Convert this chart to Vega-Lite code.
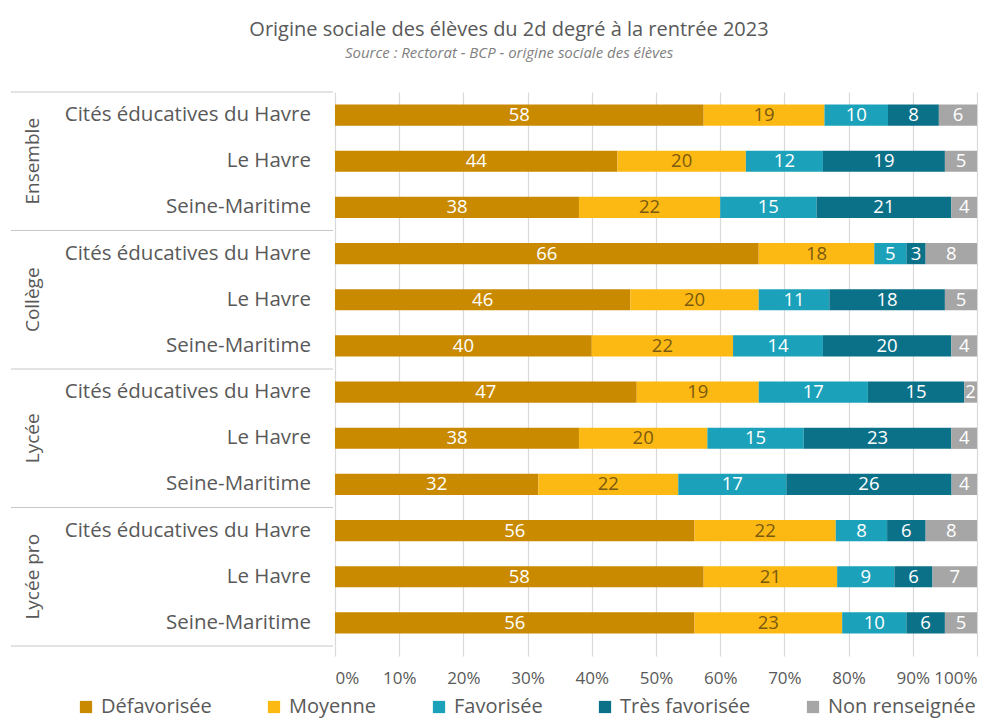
{
  "$schema": "https://vega.github.io/schema/vega-lite/v6.json",
  "padding": {"left": 10, "top": 20, "right": 20, "bottom": 5},
  "background": "white",
  "title": {
    "text": "Origine sociale des élèves du 2d degré à la rentrée 2023",
    "subtitle": "Source : Rectorat - BCP - origine sociale des élèves",
    "font": "Open Sans", "fontSize": 20, "fontWeight": "normal", "color": "#595959",
    "subtitleFont": "Open Sans", "subtitleFontSize": 15, "subtitleFontStyle": "italic", "subtitleColor": "#7f7f7f",
    "subtitlePadding": 6, "anchor": "middle", "offset": 30, "dx": 15
  },
  "data": {"values": [
    {"g": "Ensemble", "s": "Cités éducatives du Havre", "Défavorisée": 58, "Moyenne": 19, "Favorisée": 10, "Très favorisée": 8, "Non renseignée": 6},
    {"g": "Ensemble", "s": "Le Havre", "Défavorisée": 44, "Moyenne": 20, "Favorisée": 12, "Très favorisée": 19, "Non renseignée": 5},
    {"g": "Ensemble", "s": "Seine-Maritime", "Défavorisée": 38, "Moyenne": 22, "Favorisée": 15, "Très favorisée": 21, "Non renseignée": 4},
    {"g": "Collège", "s": "Cités éducatives du Havre", "Défavorisée": 66, "Moyenne": 18, "Favorisée": 5, "Très favorisée": 3, "Non renseignée": 8},
    {"g": "Collège", "s": "Le Havre", "Défavorisée": 46, "Moyenne": 20, "Favorisée": 11, "Très favorisée": 18, "Non renseignée": 5},
    {"g": "Collège", "s": "Seine-Maritime", "Défavorisée": 40, "Moyenne": 22, "Favorisée": 14, "Très favorisée": 20, "Non renseignée": 4},
    {"g": "Lycée", "s": "Cités éducatives du Havre", "Défavorisée": 47, "Moyenne": 19, "Favorisée": 17, "Très favorisée": 15, "Non renseignée": 2},
    {"g": "Lycée", "s": "Le Havre", "Défavorisée": 38, "Moyenne": 20, "Favorisée": 15, "Très favorisée": 23, "Non renseignée": 4},
    {"g": "Lycée", "s": "Seine-Maritime", "Défavorisée": 32, "Moyenne": 22, "Favorisée": 17, "Très favorisée": 26, "Non renseignée": 4},
    {"g": "Lycée pro", "s": "Cités éducatives du Havre", "Défavorisée": 56, "Moyenne": 22, "Favorisée": 8, "Très favorisée": 6, "Non renseignée": 8},
    {"g": "Lycée pro", "s": "Le Havre", "Défavorisée": 58, "Moyenne": 21, "Favorisée": 9, "Très favorisée": 6, "Non renseignée": 7},
    {"g": "Lycée pro", "s": "Seine-Maritime", "Défavorisée": 56, "Moyenne": 23, "Favorisée": 10, "Très favorisée": 6, "Non renseignée": 5}
  ]},
  "transform": [{"calculate": "datum.g + '|' + datum.s", "as": "key"}],
  "spacing": 0,
  "hconcat": [
    {
      "width": 322, "height": 554,
      "encoding": {
        "y": {"field": "key", "type": "nominal", "axis": null,
          "scale": {"paddingInner": 0, "paddingOuter": 0, "domain": [
            "Ensemble|Cités éducatives du Havre", "Ensemble|Le Havre", "Ensemble|Seine-Maritime",
            "Collège|Cités éducatives du Havre", "Collège|Le Havre", "Collège|Seine-Maritime",
            "Lycée|Cités éducatives du Havre", "Lycée|Le Havre", "Lycée|Seine-Maritime",
            "Lycée pro|Cités éducatives du Havre", "Lycée pro|Le Havre", "Lycée pro|Seine-Maritime"]}}
      },
      "layer": [
        {
          "transform": [{"filter": "datum.s === 'Seine-Maritime'"}],
          "mark": {"type": "rule", "color": "#c8c8c8", "strokeWidth": 1.2},
          "encoding": {
            "y": {"field": "key", "type": "nominal", "bandPosition": 1},
            "x": {"datum": 0, "type": "quantitative", "scale": {"domain": [0, 1]}, "axis": null},
            "x2": {"datum": 1}
          }
        },
        {
          "transform": [{"filter": "datum.g === 'Ensemble' && datum.s === 'Cités éducatives du Havre'"}],
          "mark": {"type": "rule", "color": "#c8c8c8", "strokeWidth": 1.2},
          "encoding": {
            "y": {"field": "key", "type": "nominal", "bandPosition": 0},
            "x": {"datum": 0, "type": "quantitative"},
            "x2": {"datum": 1}
          }
        },
        {
          "mark": {"type": "text", "align": "right", "baseline": "middle", "font": "Open Sans", "fontSize": 20.5, "color": "#595959", "dx": -22},
          "encoding": {
            "x": {"datum": 1, "type": "quantitative"},
            "text": {"field": "s"}
          }
        },
        {
          "transform": [{"filter": "datum.s === 'Le Havre'"}],
          "mark": {"type": "text", "align": "center", "baseline": "middle", "angle": 270, "font": "Open Sans", "fontSize": 19, "color": "#595959"},
          "encoding": {
            "x": {"datum": 0.068, "type": "quantitative"},
            "text": {"field": "g"}
          }
        }
      ]
    },
    {
      "width": 642, "height": 554,
      "transform": [
        {"fold": ["Défavorisée", "Moyenne", "Favorisée", "Très favorisée", "Non renseignée"], "as": ["c", "v"]},
        {"calculate": "indexof(['Défavorisée', 'Moyenne', 'Favorisée', 'Très favorisée', 'Non renseignée'], datum.c)", "as": "o"},
        {"stack": "v", "groupby": ["key"], "sort": [{"field": "o", "order": "ascending"}], "offset": "normalize", "as": ["v0", "v1"]},
        {"calculate": "(datum.v0 + datum.v1) / 2", "as": "mid"}
      ],
      "encoding": {
        "y": {"field": "key", "type": "nominal", "axis": null,
          "scale": {"paddingInner": 0, "paddingOuter": 0, "domain": [
            "Ensemble|Cités éducatives du Havre", "Ensemble|Le Havre", "Ensemble|Seine-Maritime",
            "Collège|Cités éducatives du Havre", "Collège|Le Havre", "Collège|Seine-Maritime",
            "Lycée|Cités éducatives du Havre", "Lycée|Le Havre", "Lycée|Seine-Maritime",
            "Lycée pro|Cités éducatives du Havre", "Lycée pro|Le Havre", "Lycée pro|Seine-Maritime"]}}
      },
      "layer": [
        {
          "mark": {"type": "bar", "height": {"band": 0.46}},
          "encoding": {
            "x": {"field": "v0", "type": "quantitative", "scale": {"domain": [0, 1]},
              "axis": {"title": null, "format": ".0%", "values": [0, 0.1, 0.2, 0.3, 0.4, 0.5, 0.6, 0.7, 0.8, 0.9, 1],
                "grid": true, "gridColor": "#d9d9d9", "gridWidth": 1.2, "domain": false,
                "ticks": true, "tickColor": "#d9d9d9", "tickSize": 10, "tickWidth": 1.2,
                "labelFont": "Open Sans", "labelFontSize": 17, "labelColor": "#595959", "labelPadding": 14}},
            "x2": {"field": "v1"},
            "color": {"field": "c", "type": "nominal", "title": null,
              "scale": {"domain": ["Défavorisée", "Moyenne", "Favorisée", "Très favorisée", "Non renseignée"],
                "range": ["#c98a00", "#fdb913", "#1ba1ba", "#0b7189", "#a6a6a6"]},
              "legend": {"orient": "none", "legendX": 65, "legendY": 605, "direction": "horizontal", "symbolType": "square", "symbolSize": 150,
                "labelFont": "Open Sans", "labelFontSize": 20, "labelColor": "#595959", "columnPadding": 52, "labelOffset": 5, "symbolStrokeWidth": 0}}
          }
        },
        {
          "mark": {"type": "text", "align": "center", "baseline": "middle", "font": "Open Sans", "fontSize": 18.5},
          "encoding": {
            "x": {"field": "mid", "type": "quantitative"},
            "text": {"field": "v", "type": "quantitative"},
            "color": {"condition": {"test": "datum.c === 'Moyenne'", "value": "#7a5a10"}, "value": "#ffffff"}
          }
        }
      ]
    }
  ],
  "config": {"view": {"stroke": null}, "concat": {"spacing": 0}}
}
